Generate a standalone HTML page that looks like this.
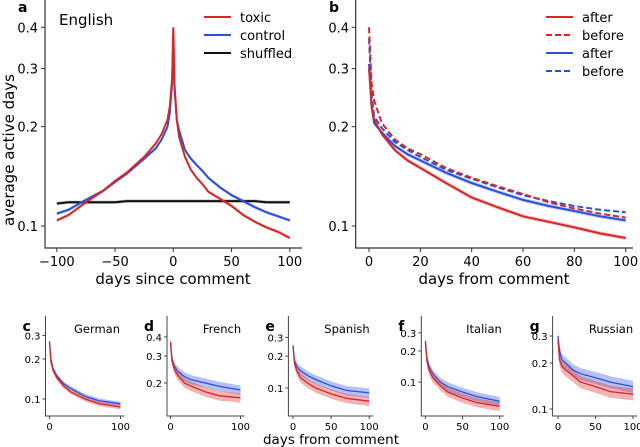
<!DOCTYPE html>
<html><head><meta charset="utf-8"><style>
body{margin:0;background:#fff}
svg{display:block;font-family:"DejaVu Sans","Liberation Sans",sans-serif}
</style></head><body>
<svg id="chart" width="640" height="447" viewBox="0 0 640 447" xmlns="http://www.w3.org/2000/svg"></svg>
<script>
// Panel a data
const aDays = [-100,-90,-75,-60,-50,-40,-25,-15,-10,-5,-3,-1,0,1,3,5,10,15,20,25,30,40,50,60,70,80,90,100];
const aToxic = [0.104,0.108,0.118,0.128,0.137,0.145,0.162,0.178,0.19,0.21,0.23,0.28,0.40,0.27,0.21,0.186,0.162,0.148,0.14,0.134,0.127,0.121,0.115,0.108,0.103,0.099,0.096,0.092];
const aControl = [0.109,0.112,0.12,0.128,0.136,0.144,0.16,0.172,0.183,0.2,0.22,0.27,0.37,0.26,0.21,0.195,0.17,0.16,0.153,0.147,0.14,0.131,0.124,0.119,0.114,0.11,0.107,0.104];
const aShuffled = [0.117,0.118,0.118,0.118,0.118,0.119,0.119,0.119,0.119,0.119,0.119,0.119,0.119,0.119,0.119,0.119,0.119,0.119,0.119,0.119,0.119,0.119,0.119,0.119,0.119,0.118,0.118,0.118];
// Panel b data
const bDays = [0,1,2,5,10,15,20,30,40,50,60,70,80,90,100];
const bRedAfter = [0.30,0.23,0.21,0.19,0.17,0.158,0.15,0.135,0.122,0.114,0.107,0.103,0.099,0.095,0.092];
const bRedBefore = [0.40,0.27,0.24,0.205,0.183,0.172,0.165,0.15,0.14,0.132,0.125,0.118,0.113,0.109,0.106];
const bBlueAfter = [0.31,0.23,0.205,0.192,0.175,0.165,0.158,0.145,0.135,0.127,0.12,0.115,0.111,0.107,0.104];
const bBlueBefore = [0.37,0.25,0.215,0.198,0.18,0.17,0.162,0.148,0.139,0.131,0.124,0.119,0.115,0.112,0.11];
// Small panels data
const sDays = [0,2,5,10,20,30,50,70,100];
const germanBlue = [0.27,0.2,0.17,0.15,0.13,0.12,0.105,0.097,0.092];
const germanRed = [0.27,0.19,0.165,0.145,0.125,0.113,0.1,0.092,0.087];
const frenchBlue = [0.37,0.29,0.26,0.24,0.22,0.21,0.2,0.19,0.18];
const frenchRed = [0.37,0.28,0.25,0.225,0.2,0.19,0.175,0.165,0.16];
const spanishBlue = [0.25,0.18,0.16,0.145,0.13,0.12,0.105,0.095,0.09];
const spanishRed = [0.25,0.17,0.145,0.125,0.11,0.1,0.088,0.08,0.075];
const italianBlue = [0.25,0.17,0.14,0.12,0.1,0.09,0.08,0.072,0.065];
const italianRed = [0.24,0.16,0.13,0.11,0.092,0.08,0.07,0.063,0.058];
const russianBlue = [0.3,0.24,0.21,0.2,0.18,0.17,0.16,0.15,0.14];
const russianRed = [0.28,0.21,0.19,0.18,0.165,0.15,0.14,0.13,0.125];

const RED="#d62728", BLUE="#2b50d8";
const svg=document.getElementById('chart');
const NS="http://www.w3.org/2000/svg";
function el(tag,attrs,parent){const e=document.createElementNS(NS,tag);for(const k in attrs)e.setAttribute(k,attrs[k]);(parent||svg).appendChild(e);return e;}
function txt(s,attrs){const t=el('text',attrs);t.textContent=s;return t;}
function pathD(xs,vs,sx,sy){return xs.map((d,i)=>(i?'L':'M')+sx(d).toFixed(1)+','+sy(vs[i]).toFixed(1)).join(' ');}
function band(xs,vs,sx,sy,f){
  let up=xs.map((d,i)=>sx(d).toFixed(1)+','+sy(vs[i]*(1+f)).toFixed(1));
  let dn=xs.map((d,i)=>sx(d).toFixed(1)+','+sy(vs[i]*(1-f)).toFixed(1)).reverse();
  return 'M'+up.join(' L')+' L'+dn.join(' L')+'Z';
}

// ---- Panel a ----
{
  const g=el('g',{});  
  const sx=d=>173.3+d*1.165, sy=v=>226-Math.log10(v/0.1)*330;
  const sp=el('path',{d:'M45,0 V248 H302',stroke:'#333',fill:'none','stroke-width':1.2},g);
  
  [0.1,0.2,0.3,0.4].forEach(v=>{el('line',{x1:41,x2:45,y1:sy(v),y2:sy(v),stroke:'#333'},g);
    const t=txt(v.toFixed(1),{x:38,y:sy(v)+5,'font-size':13,'text-anchor':'end'});});
  [-100,-50,0,50,100].forEach(d=>{el('line',{x1:sx(d),x2:sx(d),y1:248,y2:252,stroke:'#333'},g);
    const t=txt(d<0?'\u2212'+(-d):''+d,{x:sx(d),y:266,'font-size':13,'text-anchor':'middle'});});
  [[aShuffled,'#111','shuffled-line'],[aControl,BLUE,'control-line'],[aToxic,RED,'toxic-line']].forEach(([vs,c,n])=>{
    const b=el('path',{d:band(aDays,vs,sx,sy,0.012),fill:c,opacity:0.25},g);
    
    const p=el('path',{d:pathD(aDays,vs,sx,sy),stroke:c,fill:'none','stroke-width':2},g);
    
  });
  let t=txt('a',{x:18,y:12,'font-size':14,'font-weight':'bold'});
  t=txt('English',{x:59,y:25,'font-size':15});
  t=txt('days since comment',{x:173,y:284,'font-size':15,'text-anchor':'middle'});
  t=txt('average active days',{x:0,y:0,'font-size':15,'text-anchor':'middle',transform:'translate(14,150) rotate(-90)'});
  [['toxic',RED,17],['control',BLUE,35],['shuffled','#111',53]].forEach(([s,c,y])=>{
    const l=el('line',{x1:204,x2:231,y1:y,y2:y,stroke:c,'stroke-width':2});
    const tt=txt(s,{x:240,y:y+5,'font-size':13});
  });
}
// ---- Panel b ----
{
  const g=el('g',{});  
  const sx=d=>369+d*2.567, sy=v=>226-Math.log10(v/0.1)*330;
  const sp=el('path',{d:'M355.7,0 V248 H633',stroke:'#333',fill:'none','stroke-width':1.2},g);
  
  [0.1,0.2,0.3,0.4].forEach(v=>{el('line',{x1:351.7,x2:355.7,y1:sy(v),y2:sy(v),stroke:'#333'},g);
    const t=txt(v.toFixed(1),{x:349,y:sy(v)+5,'font-size':13,'text-anchor':'end'});});
  [0,20,40,60,80,100].forEach(d=>{el('line',{x1:sx(d),x2:sx(d),y1:248,y2:252,stroke:'#333'},g);
    const t=txt(''+d,{x:sx(d),y:266,'font-size':13,'text-anchor':'middle'});});
  [[bBlueBefore,BLUE,'blue-before-line',true],[bRedBefore,RED,'red-before-line',true],[bBlueAfter,BLUE,'blue-after-line',false],[bRedAfter,RED,'red-after-line',false]].forEach(([vs,c,n,dash])=>{
    if(!dash){const b=el('path',{d:band(bDays,vs,sx,sy,0.015),fill:c,opacity:0.25},g);}
    const a={d:pathD(bDays,vs,sx,sy),stroke:c,fill:'none','stroke-width':2};if(dash)a['stroke-dasharray']='6,3';
    const p=el('path',a,g);
  });
  let t=txt('b',{x:329,y:12,'font-size':14,'font-weight':'bold'});
  t=txt('days from comment',{x:494,y:284,'font-size':15,'text-anchor':'middle'});
  [['after',RED,false,17],['before',RED,true,35],['after',BLUE,false,53],['before',BLUE,true,71]].forEach(([s,c,dash,y],i)=>{
    const a={x1:546,x2:573,y1:y,y2:y,stroke:c,'stroke-width':2};if(dash)a['stroke-dasharray']='6,3';
    const l=el('line',a);
    const tt=txt(s,{x:582,y:y+5,'font-size':13});
  });
}
// ---- Small panels ----
const smalls=[
 {id:'c',title:'German',ax:45.5,d0:49.5,d100:120.5,y01:399,dec:133,yt:[0.1,0.2,0.3],xt:[0,100],blue:germanBlue,red:germanRed,f:0.04,tx:97},
 {id:'d',title:'French',ax:167,d0:170.5,d100:240.5,y01:383+Math.log10(2)*153,dec:153,yt:[0.2,0.3,0.4],xt:[0,100],blue:frenchBlue,red:frenchRed,f:0.07,tx:222},
 {id:'e',title:'Spanish',ax:288.4,d0:293,d100:369.2,y01:388,dec:106,yt:[0.1,0.2,0.3],xt:[0,50,100],blue:spanishBlue,red:spanishRed,f:0.1,tx:347},
 {id:'f',title:'Italian',ax:421.3,d0:425.4,d100:499.7,y01:382,dec:103,yt:[0.1,0.2,0.3],xt:[0,50,100],blue:italianBlue,red:italianRed,f:0.1,tx:484},
 {id:'g',title:'Russian',ax:552.6,d0:558,d100:633,y01:409,dec:153,yt:[0.1,0.2,0.3],xt:[0,50,100],blue:russianBlue,red:russianRed,f:0.09,tx:611}
];
smalls.forEach(p=>{
  const g=el('g',{});
  const sx=d=>p.d0+d*(p.d100-p.d0)/100, sy=v=>p.y01-Math.log10(v/0.1)*p.dec;
  const sp=el('path',{d:`M${p.ax},316 V416 H${p.d100+4}`,stroke:'#444',fill:'none','stroke-width':1},g);
  
  p.yt.forEach(v=>{el('line',{x1:p.ax-3,x2:p.ax,y1:sy(v),y2:sy(v),stroke:'#444'},g);
    const t=txt(v.toFixed(1),{x:p.ax-5,y:sy(v)+4,'font-size':10,'text-anchor':'end'});});
  p.xt.forEach(d=>{el('line',{x1:sx(d),x2:sx(d),y1:416,y2:419,stroke:'#444'},g);
    const t=txt(''+d,{x:sx(d),y:430,'font-size':10,'text-anchor':'middle'});});
  [[p.blue,BLUE,'blue'],[p.red,RED,'red']].forEach(([vs,c,n])=>{
    const b=el('path',{d:band(sDays,vs,sx,sy,p.f),fill:c,opacity:0.35},g);
    const l=el('path',{d:pathD(sDays,vs,sx,sy),stroke:c,fill:'none','stroke-width':1.3},g);
  });
  let t=txt(p.id,{x:p.ax-23,y:331,'font-size':14,'font-weight':'bold'});
  t=txt(p.title,{x:p.tx,y:333,'font-size':11.5,'text-anchor':'middle'});
});
{const t=txt('days from comment',{x:331,y:444,'font-size':13.5,'text-anchor':'middle'});}
</script>
</body></html>
